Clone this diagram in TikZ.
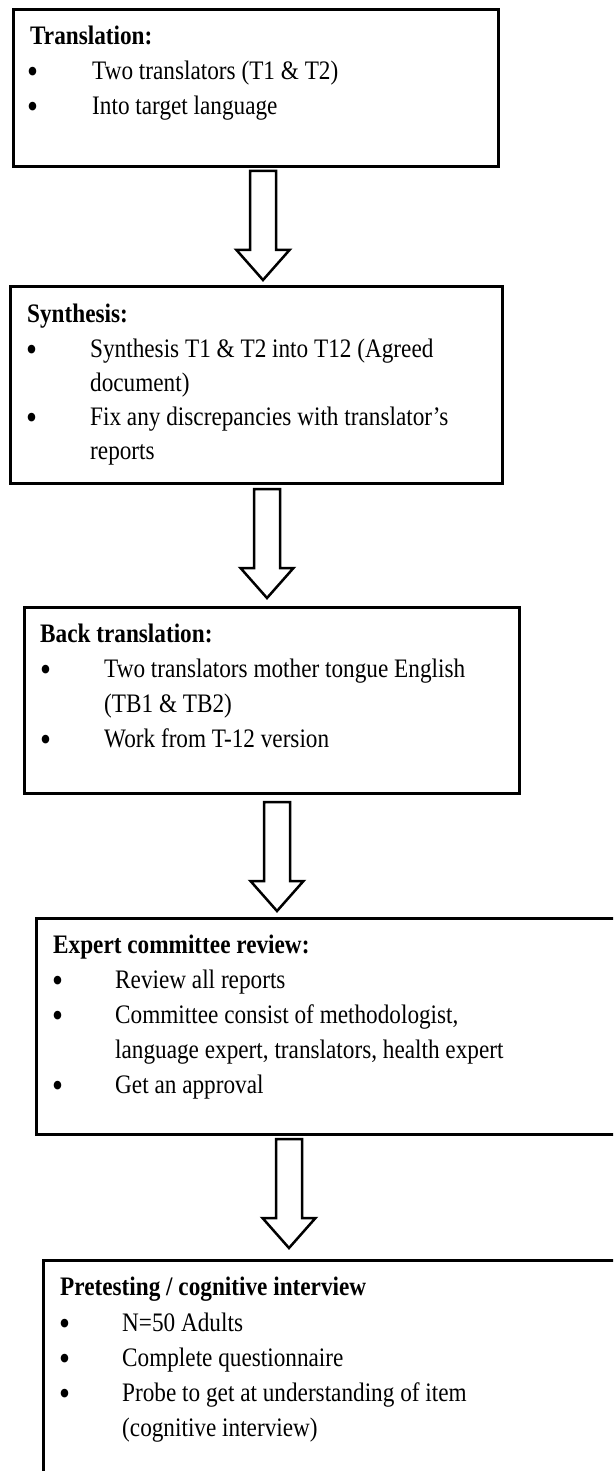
\documentclass[tikz,border=0pt]{standalone}
\usepackage{fontspec}
\setmainfont{Liberation Serif}[FakeStretch=0.87]
\usetikzlibrary{calc}
\newcommand\bodysize{\fontsize{26.7}{34.5}\selectfont}
\tikzset{
  stagebox/.style={draw=black, line width=2.8pt, rectangle, inner sep=0pt, anchor=north west},
  hd/.style={anchor=base west, inner sep=0pt, font=\bodysize\bfseries},
  tx/.style={anchor=base west, inner sep=0pt, font=\bodysize},
  bul/.style={anchor=base west, inner sep=0pt, yshift=-4pt, font=\fontsize{36}{36}\selectfont},
  downarrow/.pic={
    \draw[line width=2.5pt, line join=miter, fill=white]
      (-13,0) -- (13,0) -- (13,-79) -- (26.5,-79) -- (0,-109) -- (-26.5,-79) -- (-13,-79) -- cycle;
  }
}
\begin{document}
\begin{tikzpicture}[x=1pt, y=1pt]
\useasboundingbox (0,0) rectangle (613,-1471);
\clip (0,0) rectangle (613,-1471);
\fill[white] (0,0) rectangle (613,-1471);

% Boxes
\node[stagebox, minimum width=485pt, minimum height=157pt] (b1) at (12,-8) {};
\node[stagebox, minimum width=492pt, minimum height=197pt] (b2) at (9,-285) {};
\node[stagebox, minimum width=495pt, minimum height=186pt] (b3) at (23,-606) {};
\node[stagebox, minimum width=600pt, minimum height=216pt] (b4) at (35,-917) {};
\node[stagebox, minimum width=600pt, minimum height=260pt] (b5) at (42,-1259) {};

% Box 1
\node[hd] (h1) at (30,-45) {Translation:};
\node[bul] (p11) at (27,-80) {\textbullet};
\node[tx] (t11) at (92,-80) {Two translators (T1 \& T2)};
\node[bul] (p12) at (27,-115) {\textbullet};
\node[tx] (t12) at (92,-115) {Into target language};

% Box 2
\node[hd] (h2) at (27,-322) {Synthesis:};
\node[bul] (p21) at (26,-357) {\textbullet};
\node[tx] (t21) at (90,-357) {Synthesis T1 \& T2 into T12 (Agreed};
\node[tx] (t22) at (90,-391) {document)};
\node[bul] (p23) at (26,-425) {\textbullet};
\node[tx] (t23) at (90,-425) {Fix any discrepancies with translator’s};
\node[tx] (t24) at (90,-459) {reports};

% Box 3
\node[hd] (h3) at (40,-642) {Back translation:};
\node[bul] (p31) at (40,-677) {\textbullet};
\node[tx] (t31) at (104,-677) {Two translators mother tongue English};
\node[tx] (t32) at (104,-712) {(TB1 \& TB2)};
\node[bul] (p33) at (40,-747) {\textbullet};
\node[tx] (t33) at (104,-747) {Work from T-12 version};

% Box 4
\node[hd] (h4) at (53,-953) {Expert committee review:};
\node[bul] (p41) at (52,-988) {\textbullet};
\node[tx] (t41) at (115,-988) {Review all reports};
\node[bul] (p42) at (52,-1023) {\textbullet};
\node[tx] (t42) at (115,-1023) {Committee consist of methodologist,};
\node[tx] (t43) at (115,-1058) {language expert, translators, health expert};
\node[bul] (p44) at (52,-1093) {\textbullet};
\node[tx] (t44) at (115,-1093) {Get an approval};

% Box 5
\node[hd] (h5) at (60,-1295) {Pretesting / cognitive interview};
\node[bul] (p51) at (59,-1331) {\textbullet};
\node[tx] (t51) at (122,-1331) {N=50 Adults};
\node[bul] (p52) at (59,-1366) {\textbullet};
\node[tx] (t52) at (122,-1366) {Complete questionnaire};
\node[bul] (p53) at (59,-1401) {\textbullet};
\node[tx] (t53) at (122,-1401) {Probe to get at understanding of item};
\node[tx] (t54) at (122,-1436) {(cognitive interview)};

% Block arrows
\coordinate (a1) at (263,-171);
\coordinate (a2) at (267,-489);
\coordinate (a3) at (277,-802);
\coordinate (a4) at (289,-1139);
\pic at (a1) {downarrow};
\pic at (a2) {downarrow};
\pic at (a3) {downarrow};
\pic at (a4) {downarrow};
\end{tikzpicture}
\end{document}
